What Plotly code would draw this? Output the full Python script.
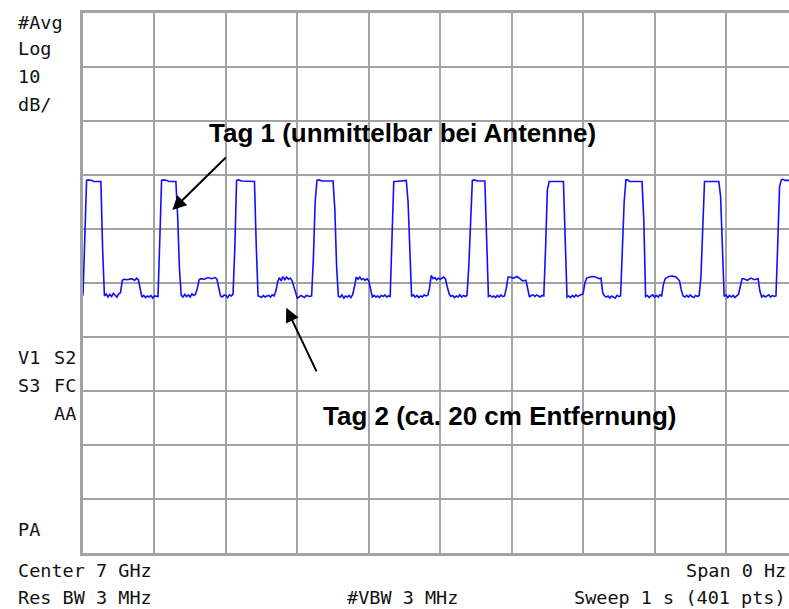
import plotly.graph_objects as go

# Zero-span sweep: 401 points over 10 divisions, 10 dB/div, reference at top of graticule.
# Trace vertices (sweep point index, level in dB relative to reference).
trace_pts = [
    0, 1, 2, 3, 5, 6, 10, 11, 12, 13, 14, 15, 16, 17, 18, 19, 20, 21, 22,
    23, 25, 27, 29, 30, 31, 32, 33, 34, 35, 36, 37, 38, 39, 40, 41, 42, 43,
    44, 45, 47, 48, 52, 53, 54, 55, 56, 57, 58, 59, 60, 61, 62, 63, 64, 65,
    66, 68, 70, 72, 74, 75, 76, 77, 78, 79, 80, 81, 82, 83, 84, 85,
    86, 87, 89, 92, 96, 97, 98, 99, 100, 101, 102, 103, 104, 105, 106, 107, 108, 109,
    110, 111, 112, 113, 114, 115, 116, 117, 118, 119, 120, 121, 122, 123, 124, 125, 126, 127, 128,
    129, 130, 131, 132, 134, 140, 141, 142, 143, 144, 145, 146, 147, 148, 149, 150, 151,
    152, 153, 154, 155, 156, 157, 158, 159, 160, 161, 162, 163, 164, 165, 166, 167, 168, 169, 170, 171, 172,
    173, 174, 175, 180, 181, 182, 183, 184, 185, 186, 187, 188, 189, 190, 191, 192, 193,
    194, 195, 196, 197, 198, 199, 200, 202, 203, 204, 205, 206, 207, 208, 209, 210, 211, 212, 213, 214, 215,
    216, 217, 218, 219, 221, 225, 226, 227, 228, 229, 230, 231, 232, 233, 234, 235, 236,
    237, 238, 239, 241, 243, 245, 246, 248, 249, 250, 251, 252, 253, 254, 255, 256, 257, 258,
    259, 260, 261, 262, 269, 270, 271, 272, 273, 274, 275, 276, 277, 278, 279, 280,
    281, 282, 283, 285, 287, 289, 290, 291, 292, 293, 294, 295, 296, 297, 298, 299, 300, 301,
    302, 303, 304, 305, 306, 313, 314, 315, 316, 317, 318, 319, 320, 321, 322, 323, 324,
    325, 326, 327, 328, 330, 332, 333, 334, 335, 336, 337, 338, 339, 340, 341, 342, 343, 344, 345,
    346, 347, 348, 349, 356, 357, 358, 359, 360, 361, 362, 363, 364, 365, 366, 367,
    368, 369, 370, 372, 374, 376, 378, 379, 380, 381, 382, 383, 384, 385, 386, 387, 388,
    389, 390, 391, 392, 393, 396,
]
trace_db = [
    -52.3, -42.0, -31.0, -30.9, -31.0, -31.2, -31.2, -43.8, -52.4, -52.0, -52.6, -52.1, -52.5, -51.9, -52.2, -52.6, -52.0, -51.8, -49.5,
    -49.3, -49.4, -49.2, -49.5, -49.1, -49.4, -51.4, -52.6, -52.3, -52.7, -52.4, -52.6, -52.3, -52.8, -52.4, -52.4, -52.5, -42.0,
    -31.0, -30.9, -31.0, -31.2, -31.2, -37.7, -47.3, -52.3, -52.6, -52.1, -52.5, -52.2, -52.6, -52.0, -52.3, -52.1, -51.0, -49.4,
    -49.2, -49.3, -49.0, -49.2, -49.0, -49.3, -51.2, -52.4, -52.6, -52.2, -52.3, -52.7, -52.2, -52.4, -52.1, -43.5,
    -31.0, -30.9, -31.1, -31.2, -31.2, -43.0, -52.4, -52.5, -52.7, -52.3, -52.6, -52.4, -52.3, -52.6, -52.2, -52.4, -51.5, -49.8,
    -49.0, -49.6, -48.8, -49.4, -48.9, -49.3, -49.1, -49.5, -50.5, -51.5, -52.8, -52.6, -52.3, -52.5, -52.7, -52.3, -52.4, -52.5, -52.4,
    -45.4, -34.9, -31.0, -30.9, -31.1, -31.1, -36.3, -47.0, -52.5, -52.6, -52.2, -52.8, -52.4, -52.6, -52.3, -52.7, -52.1,
    -50.7, -48.9, -49.3, -48.9, -49.4, -49.2, -49.5, -49.2, -49.6, -51.0, -52.6, -52.3, -52.6, -52.4, -52.7, -52.3, -52.5, -52.2, -52.6, -52.4, -52.5,
    -41.7, -31.2, -31.2, -31.0, -31.0, -34.9, -43.9, -52.5, -52.2, -52.6, -52.3, -52.7, -52.4, -52.6, -52.2, -52.4, -52.3,
    -51.0, -48.6, -49.2, -49.0, -49.4, -49.1, -49.3, -48.9, -49.3, -50.8, -52.0, -52.5, -52.3, -52.7, -52.4, -52.6, -52.2, -52.6, -52.3, -52.5, -52.3,
    -47.0, -37.7, -31.0, -30.9, -31.1, -31.1, -43.2, -52.5, -52.3, -52.6, -52.4, -52.7, -52.3, -52.6, -52.2, -52.5, -52.4,
    -51.0, -48.9, -48.9, -49.1, -48.8, -49.3, -49.6, -49.5, -51.0, -52.6, -52.3, -52.2, -52.5, -52.2, -52.4, -52.6, -52.3, -52.4,
    -43.6, -32.8, -31.2, -31.2, -31.2, -42.0, -52.6, -52.4, -52.7, -52.3, -52.6, -52.2, -52.5, -52.3, -52.1, -52.0,
    -50.0, -49.1, -49.0, -48.8, -48.9, -49.2, -49.1, -51.8, -52.4, -52.6, -52.4, -52.8, -52.4, -52.6, -52.8, -52.3, -52.5, -52.4,
    -45.1, -35.0, -30.9, -30.9, -31.2, -31.2, -38.3, -52.5, -52.3, -52.7, -52.4, -52.2, -52.6, -52.3, -52.6, -52.2, -52.4,
    -50.2, -49.2, -49.0, -48.8, -48.7, -48.9, -49.2, -49.6, -51.3, -52.4, -52.6, -52.3, -52.6, -52.2, -52.5, -52.7, -52.3, -52.5, -52.3,
    -48.8, -39.9, -31.2, -31.2, -31.2, -34.0, -44.4, -52.5, -52.2, -52.7, -52.3, -52.6, -52.3, -52.7, -52.4, -52.1,
    -50.7, -49.2, -49.2, -49.5, -49.1, -49.4, -49.2, -51.5, -52.6, -52.3, -52.6, -52.4, -52.2, -52.6, -52.3, -52.5, -52.4,
    -42.7, -32.2, -30.9, -30.8, -31.0, -31.0,
]

# Graticule
n_points = 401
div_x = 10
div_y = 10
db_per_div = 10

# Instrument annotation texts
left_top_labels = ["#Avg", "Log", "10", "dB/"]
left_mid_pairs = [("V1", "S2"), ("S3", "FC"), ("", "AA")]
left_bottom_label = "PA"
footer_left = ["Center 7 GHz", "Res BW 3 MHz"]
footer_mid = "#VBW 3 MHz"
footer_right = ["Span 0 Hz", "Sweep 1 s (401 pts)"]

tag1_text = "Tag 1 (unmittelbar bei Antenne)"
tag2_text = "Tag 2 (ca. 20 cm Entfernung)"

W, H = 789, 609
ML, MT, MB = 83, 13, 56
plot_w = W - ML
plot_h = H - MT - MB
pts_per_div = (n_points - 1) / div_x
px_per_div = 71.44
x_max = plot_w / px_per_div * pts_per_div

fig = go.Figure()
fig.add_trace(go.Scatter(
    x=trace_pts, y=trace_db, mode="lines",
    line=dict(color="#1010ff", width=1.6),
    hoverinfo="skip", showlegend=False,
))

grid_col = "#a3a3a3"
fig.update_xaxes(
    range=[0, x_max], tick0=0, dtick=pts_per_div,
    showgrid=True, gridcolor=grid_col, gridwidth=2,
    zeroline=False, showticklabels=False, ticks="",
    showline=True, linecolor=grid_col, linewidth=3, mirror=True,
    fixedrange=True,
)
fig.update_yaxes(
    range=[-div_y * db_per_div, 0], tick0=0, dtick=db_per_div,
    showgrid=True, gridcolor=grid_col, gridwidth=2,
    zeroline=False, showticklabels=False, ticks="",
    showline=True, linecolor=grid_col, linewidth=3, mirror=False,
    fixedrange=True,
)

mono = dict(family="DejaVu Sans Mono", size=18.5, color="#111111")


def px_text(text, px, py, xanchor="left"):
    if not text:
        return
    fig.add_annotation(
        text=text, xref="paper", yref="paper",
        x=(px - ML) / plot_w, y=(H - MB - py) / plot_h,
        xanchor=xanchor, yanchor="middle", showarrow=False, font=mono,
    )


for label, py in zip(left_top_labels, [22, 49, 77, 104]):
    px_text(label, 16, py)
for (left, right), py in zip(left_mid_pairs, [357, 385, 413]):
    px_text(left, 16, py)
    px_text(right, 78, py, "right")
px_text(left_bottom_label, 16, 529)
px_text(footer_left[0], 16, 570)
px_text(footer_left[1], 16, 597)
px_text(footer_mid, 402, 597, "center")
px_text(footer_right[0], 788, 570, "right")
px_text(footer_right[1], 788, 597, "right")

label_font = dict(family="Liberation Sans, Arial", size=26, color="#000000")
fig.add_annotation(text="<b>" + tag1_text + "</b>", xref="paper", yref="paper",
                   x=(402 - ML) / plot_w, y=(H - MB - 133) / plot_h,
                   xanchor="center", yanchor="middle", showarrow=False, font=label_font)
fig.add_annotation(text="<b>" + tag2_text + "</b>", xref="paper", yref="paper",
                   x=(499 - ML) / plot_w, y=(H - MB - 416) / plot_h,
                   xanchor="center", yanchor="middle", showarrow=False, font=label_font)

# Arrows pointing to the two tag responses
fig.add_annotation(x=50.0, y=-36.5, xref="x", yref="y", text="", showarrow=True,
                   ax=55, ay=-54, arrowhead=2, arrowsize=1.4, arrowwidth=2, arrowcolor="#000000")
fig.add_annotation(x=113.8, y=-54.6, xref="x", yref="y", text="", showarrow=True,
                   ax=31, ay=65, arrowhead=2, arrowsize=1.4, arrowwidth=2, arrowcolor="#000000")

fig.update_layout(
    width=W, height=H,
    margin=dict(l=ML, r=0, t=MT, b=MB, pad=0),
    paper_bgcolor="#ffffff", plot_bgcolor="#ffffff",
    showlegend=False,
)

fig.write_html("out.html", config={"displayModeBar": False})
